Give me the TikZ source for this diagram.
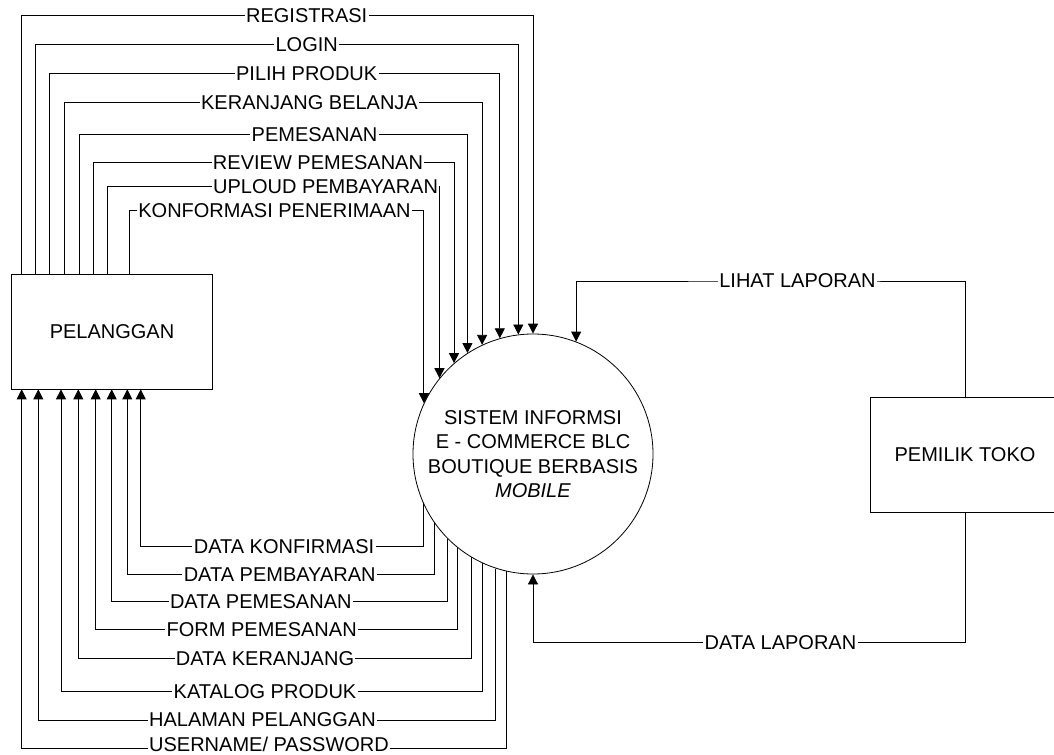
\documentclass[tikz,border=0pt]{standalone}
\usepackage{fontspec}
\setmainfont{Liberation Sans}
\usetikzlibrary{arrows.meta}
\tikzset{
  >={Triangle[length=7.5pt,width=7.5pt]},
}
\tikzstyle{every node}=[font=\fontsize{15}{18.4}\selectfont]
\tikzstyle{flow}=[line width=0.6pt,->]
\tikzstyle{ent}=[draw,line width=0.6pt,minimum width=150.6pt,minimum height=85.9pt]
\tikzstyle{proc}=[draw,circle,line width=0.6pt,minimum size=180pt,inner sep=0pt,align=center]
\tikzstyle{lbl}=[fill=white,inner xsep=1pt,inner ysep=1.5pt]

\begin{document}
\begin{tikzpicture}[x=0.75pt,y=-0.75pt]
    \useasboundingbox (0,0) rectangle (1054,754);
    \clip (0,0) rectangle (1054,754);

    \node[ent] (pel) at (112,331.7) {PELANGGAN};
    \node[ent,minimum width=142.5pt,minimum height=86.25pt] (pem) at (965,454.5) {PEMILIK TOKO};
    \node[proc] (sys) at (533,454)
    {SISTEM INFORMSI\\E - COMMERCE BLC\\BOUTIQUE BERBASIS\\\textit{MOBILE}};

    \draw[flow] (21.7,0 |- pel.north) |- (306.7,15.7) node[lbl]{REGISTRASI} -| (sys.90);
    \draw[flow] (35.7,0 |- pel.north) |- (306.7,44.3) node[lbl]{LOGIN} -| (sys.97.8);
    \draw[flow] (49.7,0 |- pel.north) |- (306.7,73.3) node[lbl]{PILIH PRODUK} -| (sys.106.5);
    \draw[flow] (64.3,0 |- pel.north) |- (309.5,102.7) node[lbl]{KERANJANG BELANJA} -| (sys.115.7);
    \draw[flow] (79,0 |- pel.north) |- (314.5,134.3) node[lbl]{PEMESANAN} -| (sys.123.2);
    \draw[flow] (93.3,0 |- pel.north) |- (318,162.7) node[lbl]{REVIEW PEMESANAN} -| (sys.131.8);
    \draw[flow] (107.3,0 |- pel.north) |- (325.6,186.7) node[lbl]{UPLOUD PEMBAYARAN} -| (sys.141.9);
    \draw[flow] (129,0 |- pel.north) |- (274.5,210.7) node[lbl]{KONFORMASI PENERIMAAN} -| (sys.155.3);

    \draw[flow] (sys.204.7) |- (284,546.7) node[lbl]{DATA KONFIRMASI} -| (140.7,0 |- pel.south);
    \draw[flow] (sys.215.2) |- (279.7,574.5) node[lbl]{DATA PEMBAYARAN} -| (127.3,0 |- pel.south);
    \draw[flow] (sys.225.1) |- (260.8,601.5) node[lbl]{DATA PEMESANAN} -| (111.7,0 |- pel.south);
    \draw[flow] (sys.231.9) |- (261.7,629.5) node[lbl]{FORM PEMESANAN} -| (95.7,0 |- pel.south);
    \draw[flow] (sys.239) |- (265,658.3) node[lbl]{DATA KERANJANG} -| (78.3,0 |- pel.south);
    \draw[flow] (sys.245.4) |- (265,691.5) node[lbl]{KATALOG PRODUK} -| (61,0 |- pel.south);
    \draw[flow] (sys.252.3) |- (262.5,720) node[lbl]{HALAMAN PELANGGAN} -| (38.3,0 |- pel.south);
    \draw[flow] (sys.257.8) |- (269,748) node[lbl,yshift=3pt]{USERNAME/ PASSWORD} -| (21.7,0 |- pel.south);

    \draw[flow] (pem.north) |- (797.5,281) node[lbl]{LIHAT LAPORAN} -| (sys.69.2);
    \draw[flow] (pem.south) |- (780.5,642.3) node[lbl]{DATA LAPORAN} -| (sys.270);
\end{tikzpicture}
\end{document}
